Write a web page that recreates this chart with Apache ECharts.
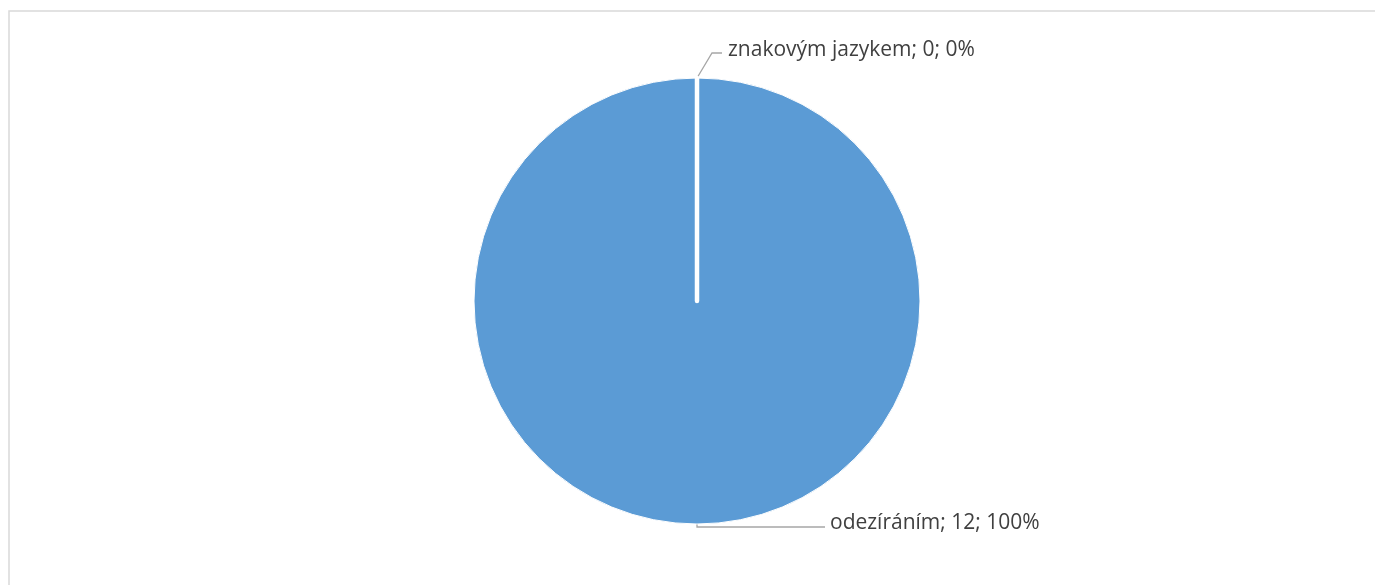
<!DOCTYPE html>
<html>
<head>
<meta charset="utf-8">
<script src="https://cdn.jsdelivr.net/npm/echarts@6/dist/echarts.min.js"></script>
<style>
  html, body { margin: 0; padding: 0; background: #ffffff; }
  #chart { width: 1375px; height: 585px; }
</style>
</head>
<body>
<div id="chart"></div>
<script>
// Categories and counts
const categories = ['znakovým jazykem', 'odezíráním'];
const counts = [0, 12];
const sliceColor = '#5b9bd5';

const pieData = categories.map((name, i) => ({ name: name, value: counts[i] }));

const chart = echarts.init(document.getElementById('chart'), null, { renderer: 'canvas' });

const option = {
  animation: false,
  backgroundColor: '#ffffff',
  graphic: [{
    // chart area frame
    type: 'rect',
    silent: true,
    shape: { x: 9, y: 11, width: 1420, height: 620 },
    style: { fill: 'none', stroke: '#d9d9d9', lineWidth: 1.5 }
  }],
  series: [
    {
      type: 'pie',
      center: [697, 301],
      radius: 223,
      startAngle: 90,
      clockwise: true,
      itemStyle: { color: sliceColor, borderColor: '#ffffff', borderWidth: 1 },
      label: {
        show: true,
        formatter: '{b}; {c}; {d}%',
        color: '#404040',
        fontFamily: 'Open Sans',
        fontSize: 21,
        distanceToLabelLine: 5
      },
      labelLine: {
        show: true,
        length: 3,
        length2: 128,
        lineStyle: { color: '#a6a6a6', width: 1.3 }
      },
      data: pieData.map((d, i) => i === 0
        ? Object.assign({}, d, { labelLine: { length: 25, length2: 25 } })
        : d),
      labelLayout: function (params) {
        const pts = params.labelLinePoints;
        if (!pts) return {};
        if (params.dataIndex === 0) {
          // slanted first leg, then a short run to the right
          const p1 = [pts[1][0] + 15, pts[1][1]];
          const p2 = [pts[1][0] + 25, pts[2][1]];
          return {
            x: p2[0] + 6,
            y: p2[1] - 3,
            align: 'left',
            verticalAlign: 'middle',
            labelLinePoints: [pts[0], p1, p2]
          };
        }
        const end = pts[2];
        return {
          x: end[0] + 5,
          y: end[1] - 4,
          align: 'left',
          verticalAlign: 'middle',
          labelLinePoints: pts
        };
      },
      emphasis: { disabled: true }
    },
    {
      // white radial divider drawn by the zero-width slice, kept above the fill
      type: 'pie',
      z: 3,
      silent: true,
      center: [697, 301],
      radius: 223,
      startAngle: 90,
      clockwise: true,
      data: pieData.map(d => ({
        name: d.name,
        value: d.value,
        itemStyle: d.value === 0
          ? { color: sliceColor, borderColor: '#ffffff', borderWidth: 4.5 }
          : { opacity: 0 }
      })),
      label: { show: false },
      labelLine: { show: false },
      emphasis: { disabled: true },
      tooltip: { show: false }
    }
  ]
};

chart.setOption(option);
</script>
</body>
</html>
